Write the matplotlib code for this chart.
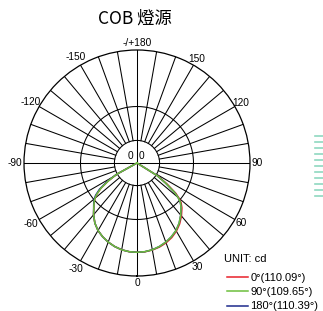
import numpy as np
import matplotlib
matplotlib.use("Agg")
import matplotlib.pyplot as plt
from matplotlib.lines import Line2D

# gamma angles (deg) and relative intensity (fraction of outer ring), per half plane
gamma_right = [0, 5, 10, 15, 20, 25, 30, 35, 40, 45, 48, 50, 52, 55, 58, 61, 70, 80, 90]
gamma_left = [0, 5, 10, 15, 20, 25, 30, 35, 40, 45, 48, 50, 52, 55, 58, 61, 63, 70, 80, 90]

c0_right = [0.79, 0.789, 0.782, 0.77, 0.752, 0.728, 0.697, 0.658, 0.612, 0.562, 0.525,
            0.485, 0.435, 0.325, 0.215, 0.0, 0.0, 0.0, 0.0]
c0_left = [0.79, 0.788, 0.78, 0.765, 0.745, 0.72, 0.69, 0.65, 0.598, 0.54, 0.51,
           0.485, 0.455, 0.39, 0.30, 0.205, 0.0, 0.0, 0.0, 0.0]
c90_right = [0.79, 0.788, 0.78, 0.765, 0.745, 0.72, 0.69, 0.65, 0.602, 0.552, 0.515,
             0.475, 0.42, 0.305, 0.21, 0.0, 0.0, 0.0, 0.0]
c90_left = [0.79, 0.788, 0.78, 0.765, 0.745, 0.72, 0.69, 0.65, 0.598, 0.54, 0.51,
            0.485, 0.455, 0.39, 0.30, 0.205, 0.0, 0.0, 0.0, 0.0]
c180_right = [0.79, 0.788, 0.78, 0.765, 0.745, 0.72, 0.69, 0.65, 0.602, 0.552, 0.515,
              0.475, 0.42, 0.305, 0.21, 0.0, 0.0, 0.0, 0.0]
c180_left = [0.79, 0.788, 0.78, 0.765, 0.745, 0.72, 0.69, 0.65, 0.598, 0.542, 0.515,
             0.492, 0.465, 0.405, 0.315, 0.21, 0.0, 0.0, 0.0, 0.0]

series_labels = ["0°(110.09°)", "90°(109.65°)", "180°(110.39°)"]
series_colors = ["#e8202a", "#6cbf3c", "#1c2a8c"]

angle_labels = [0, 30, 60, 90, 120, 150, 180, -150, -120, -90, -60, -30]
ring_levels = [0.2, 0.5]


def full_curve(right, left):
    th = [-g for g in gamma_left[::-1]] + gamma_right[1:]
    r = left[::-1] + right[1:]
    return np.deg2rad(th), r


fig = plt.figure(figsize=(3.23, 3.11), dpi=100)
ax = fig.add_axes([24 / 323, 35 / 311, 226 / 323, 226 / 311], projection="polar")
ax.set_theta_zero_location("S")
ax.set_theta_direction(1)
ax.set_ylim(0, 1)
ax.grid(False)
ax.set_xticks([])
ax.set_yticks([])
ax.spines["polar"].set_linewidth(0.9)
ax.spines["polar"].set_color("black")

grid_kw = dict(color="black", lw=0.75, zorder=1)
full = np.linspace(0, 2 * np.pi, 361)
for level in ring_levels:
    ax.plot(full, np.full_like(full, level), **grid_kw)
for deg in range(0, 360, 10):
    t = np.deg2rad(deg)
    start = 0.0 if deg % 90 == 0 else ring_levels[0]
    ax.plot([t, t], [start, 1.0], **grid_kw)

curves = {
    0: full_curve(c0_right, c0_left),
    1: full_curve(c90_right, c90_left),
    2: full_curve(c180_right, c180_left),
}
lines = {}
for idx in [0, 2, 1]:  # green drawn last, on top
    th, r = curves[idx]
    (ln,) = ax.plot(th, r, color=series_colors[idx], lw=1.1, zorder=3)
    lines[idx] = ln

for a in angle_labels:
    txt = "-/+180" if a == 180 else str(a)
    r = 1.06 if a >= 0 else 1.085
    ax.text(np.deg2rad(a), r, txt, ha="center", va="center", fontsize=7.3,
            family="Liberation Sans", clip_on=False)

for x in [130.5, 141]:
    fig.text(x / 323, 1 - 156 / 311, "0", ha="center", va="center", fontsize=7.3,
             family="Liberation Sans")

fig.text(135 / 323, 1 - 19 / 311, "COB 燈源", ha="center", va="center", fontsize=12.5,
         family=["Noto Sans CJK TC", "DejaVu Sans"])

fig.text(224 / 323, 1 - 259.5 / 311, "UNIT: cd", ha="left", va="center", fontsize=8,
         family="Liberation Sans")
fig.legend([lines[i] for i in range(3)], series_labels, loc="upper left",
           bbox_to_anchor=(227 / 323, 1 - 273 / 311), frameon=False,
           prop={"family": "Liberation Sans", "size": 8},
           handlelength=1.9, handletextpad=0.2, labelspacing=0.38, borderpad=0, borderaxespad=0)

# faint cut-off element at the right edge
for k in range(11):
    y = 1 - (136 + 6 * k) / 311
    fig.add_artist(Line2D([315 / 323, 1.0], [y, y], color="#8fd8c0", lw=1.2))

fig.savefig("out.png", dpi=100)
